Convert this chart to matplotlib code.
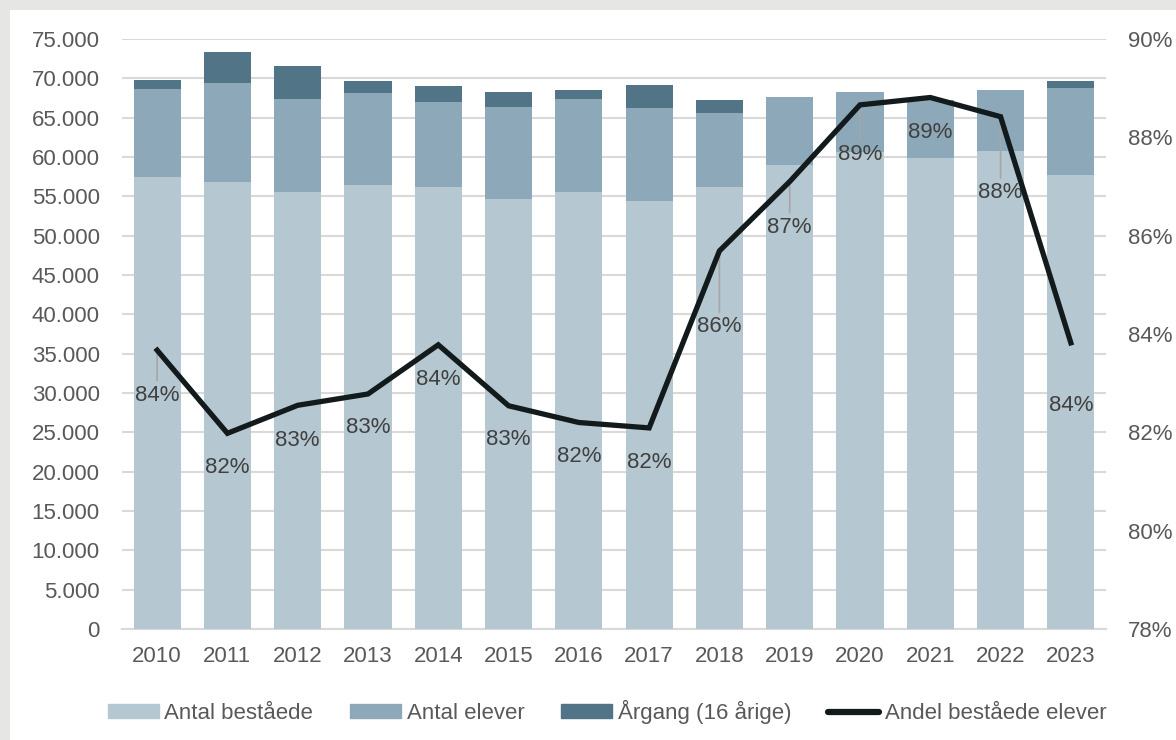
import numpy as np
import matplotlib
matplotlib.use("Agg")
import matplotlib.pyplot as plt
from matplotlib.patches import Rectangle, Patch
from matplotlib.lines import Line2D
from matplotlib.ticker import FuncFormatter, MultipleLocator

plt.rcParams["font.family"] = ["Liberation Sans", "DejaVu Sans"]

# Data
years = ["2010", "2011", "2012", "2013", "2014", "2015", "2016",
         "2017", "2018", "2019", "2020", "2021", "2022", "2023"]
argang = [69800, 73300, 71600, 69700, 69000, 68300, 68500,
          69200, 67300, 67400, 68000, 67100, 68300, 69700]
antal_elever = [68600, 69400, 67400, 68100, 67000, 66300, 67400,
                66200, 65600, 67600, 68300, 67300, 68500, 68800]
antal_bestaaede = [57500, 56800, 55500, 56400, 56200, 54700, 55500,
                   54400, 56200, 59000, 60600, 59900, 60700, 57700]
andel = [83.67, 81.98, 82.55, 82.78, 83.78, 82.54, 82.2,
         82.09, 85.69, 87.1, 88.66, 88.81, 88.42, 83.82]
andel_labels = ["84%", "82%", "83%", "83%", "84%", "83%", "82%",
                "82%", "86%", "87%", "89%", "89%", "88%", "84%"]
# label placement below each point (pixels) and whether a leader line shows
label_drop = [45, 34, 35, 34, 35, 34, 34, 35, 76, 46, 50, 35, 76, 63]
leader = [True, False, False, False, False, False, False,
          False, True, True, True, False, True, False]

c_light = "#b5c7d0"
c_mid = "#8da9b9"
c_dark = "#517486"
c_line = "#121a1c"
c_text = "#595959"

fig = plt.figure(figsize=(11.76, 7.4), dpi=100)
fig.patch.set_facecolor("#e6e6e4")
# white panel, gray strip left and top
fig.patches.append(Rectangle((10 / 1176, 0), 1, (740 - 10) / 740,
                             transform=fig.transFigure, facecolor="white",
                             edgecolor="none", zorder=-10))

ax = fig.add_axes([122 / 1176, 111 / 740, 984 / 1176, 590 / 740])
ax.set_facecolor("none")
x = np.arange(len(years))
w = 0.67
# overlapping bars, all from zero
ax.bar(x, argang, w, color=c_dark, zorder=2)
ax.bar(x, antal_elever, w, color=c_mid, zorder=3)
ax.bar(x, antal_bestaaede, w, color=c_light, zorder=4)

ax.set_xlim(-0.5, len(years) - 0.5)
ax.set_ylim(0, 75000)
ax.yaxis.set_major_locator(MultipleLocator(5000))
ax.yaxis.set_major_formatter(FuncFormatter(lambda v, p: f"{int(v):,}".replace(",", ".")))
ax.set_xticks(x)
ax.set_xticklabels(years)
ax.grid(axis="y", color="#d9d9d9", linewidth=1.5, zorder=0)
ax.set_axisbelow(True)
for s in ["top", "left", "right"]:
    ax.spines[s].set_visible(False)
ax.spines["bottom"].set_color("#d9d9d9")
ax.spines["bottom"].set_linewidth(1.5)
ax.tick_params(axis="both", length=0, labelsize=16, colors=c_text)
ax.tick_params(axis="x", pad=12)
ax.tick_params(axis="y", pad=16)

# percentage line on the right axis
ax2 = ax.twinx()
ax2.plot(x, andel, color=c_line, linewidth=3.8, solid_joinstyle="miter", zorder=5)
ax2.set_ylim(78, 90)
ax2.yaxis.set_major_locator(MultipleLocator(2))
ax2.yaxis.set_major_formatter(FuncFormatter(lambda v, p: f"{int(round(v))}%"))
for s in ["top", "left", "right", "bottom"]:
    ax2.spines[s].set_visible(False)
ax2.tick_params(axis="y", length=0, labelsize=16, colors=c_text, pad=16)

for i in range(len(years)):
    drop = label_drop[i] / 1.389
    arrow = None
    if leader[i]:
        arrow = dict(arrowstyle="-", color="#a6a6a6", lw=1.2, shrinkA=1, shrinkB=0)
    ax2.annotate(andel_labels[i], (x[i], andel[i]), xytext=(0, -drop),
                 textcoords="offset points", ha="center", va="center",
                 fontsize=16, color="#404040", zorder=4, arrowprops=arrow)

handles = [Patch(color=c_light), Patch(color=c_mid), Patch(color=c_dark),
           Line2D([0], [0], color=c_line, linewidth=4.5, solid_capstyle="round")]
names = ["Antal beståede", "Antal elever", "Årgang (16 årige)", "Andel beståede elever"]
fig.legend(handles, names, loc="center", bbox_to_anchor=(607 / 1176, 28 / 740),
           ncol=4, frameon=False, fontsize=16, handlelength=2.3, handleheight=0.6,
           handletextpad=0.25, columnspacing=1.65, labelcolor=c_text)

fig.savefig("out.png", dpi=100, facecolor=fig.get_facecolor())
